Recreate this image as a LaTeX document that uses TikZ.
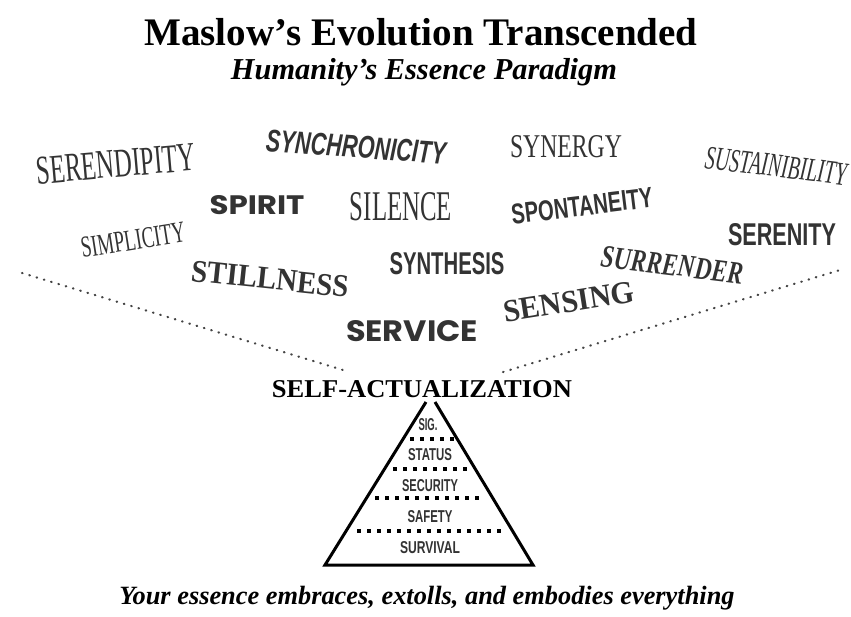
\documentclass[tikz,border=0pt]{standalone}
\usepackage{fontspec}
\usepackage{graphicx}
\setmainfont{Liberation Serif}
\newfontfamily\lsans{Liberation Sans}
\newfontfamily\geo{Poppins}
\definecolor{ink}{HTML}{333333}
\definecolor{dotgray}{HTML}{444444}
\newcommand{\fitbox}[3]{\resizebox{#1pt}{#2pt}{#3}}
\tikzset{
  word/.style={inner sep=0pt, text=ink},
  label/.style={inner sep=0pt, text=black},
  pyr/.style={line width=3pt, line join=miter, black},
  dotrow/.style={line width=3.5pt, black, dash pattern=on 3.5pt off 6.5pt},
  vline/.style={line width=2.2pt, dotgray, line cap=round, dash pattern=on 0.6pt off 7pt},
  lvl/.style={inner sep=0pt, text=ink, font=\lsans\bfseries}
}
\begin{document}
\begin{tikzpicture}[x=1pt,y=-1pt]
\useasboundingbox[fill=white] (0,0) rectangle (851,616);
% titles
\node[label] (title) at (421,32) {\resizebox{553pt}{!}{\bfseries Maslow’s Evolution Transcended}};
\node[label] (subtitle) at (424,72) {\resizebox{386pt}{!}{\bfseries\itshape Humanity’s Essence Paradigm}};
% words
\node[word, rotate=5] (serendipity) at (116,164) {\fitbox{160}{27}{SERENDIPITY}};
\node[word, rotate=-4] (synchronicity) at (356,147) {\fitbox{180}{22}{\lsans\bfseries\itshape SYNCHRONICITY}};
\node[word] (synergy) at (566,147) {\fitbox{112}{22}{SYNERGY}};
\node[word, rotate=-7] (sustainibility) at (776,166) {\fitbox{142}{22}{\itshape SUSTAINIBILITY}};
\node[word] (spirit) at (257,205) {\fitbox{95}{19}{\geo\bfseries SPIRIT}};
\node[word] (silence) at (401,207) {\fitbox{102}{28}{SILENCE}};
\node[word, rotate=7] (spontaneity) at (582,206) {\fitbox{142}{20}{\lsans\bfseries SPONTANEITY}};
\node[word, rotate=9] (simplicity) at (133,240) {\fitbox{105}{20}{SIMPLICITY}};
\node[word] (serenity) at (782,235) {\fitbox{108}{22}{\lsans\bfseries SERENITY}};
\node[word, rotate=-6] (stillness) at (270,279) {\fitbox{158}{21}{\bfseries STILLNESS}};
\node[word] (synthesis) at (447,264) {\fitbox{115}{22}{\lsans\bfseries SYNTHESIS}};
\node[word, rotate=-7] (surrender) at (672,265) {\fitbox{143}{21}{\bfseries\itshape SURRENDER}};
\node[word, rotate=9] (sensing) at (569,302) {\fitbox{132}{21}{\bfseries SENSING}};
\node[word] (service) at (412,331) {\fitbox{132}{21}{\geo\bfseries SERVICE}};
\node[label] (selfact) at (422,389) {\fitbox{300}{17}{\bfseries SELF-ACTUALIZATION}};
% dotted V
\coordinate (vl1) at (22,273);
\coordinate (vl2) at (343,370);
\coordinate (vr1) at (503,372);
\coordinate (vr2) at (840,270);
\draw[vline] (vl1) -- (vl2);
\draw[vline] (vr1) -- (vr2);
% pyramid
\coordinate (pA) at (325,565);
\coordinate (pB) at (533,565);
\coordinate (pL) at (426,402);
\coordinate (pR) at (435,402);
\draw[pyr] (pL) -- (pA) -- (pB) -- (pR);
\coordinate (r1a) at (410,439); \coordinate (r1b) at (454,439);
\coordinate (r2a) at (393,469); \coordinate (r2b) at (467,469);
\coordinate (r3a) at (375,498); \coordinate (r3b) at (479,498);
\coordinate (r4a) at (357,531); \coordinate (r4b) at (501,531);
\draw[dotrow] (r1a) -- (r1b);
\draw[dotrow] (r2a) -- (r2b);
\draw[dotrow] (r3a) -- (r3b);
\draw[dotrow] (r4a) -- (r4b);
\node[lvl] (sig) at (428,425) {\fitbox{19}{12}{SIG.}};
\node[lvl] (status) at (430,455) {\fitbox{44}{12}{STATUS}};
\node[lvl] (security) at (430,486) {\fitbox{56}{12}{SECURITY}};
\node[lvl] (safety) at (430,517) {\fitbox{45}{12}{SAFETY}};
\node[lvl] (survival) at (430,548) {\fitbox{60}{12}{SURVIVAL}};
% bottom
\node[label] (bottom) at (427,598) {\resizebox{615pt}{!}{\bfseries\itshape Your essence embraces, extolls, and embodies everything}};
\end{tikzpicture}
\end{document}
